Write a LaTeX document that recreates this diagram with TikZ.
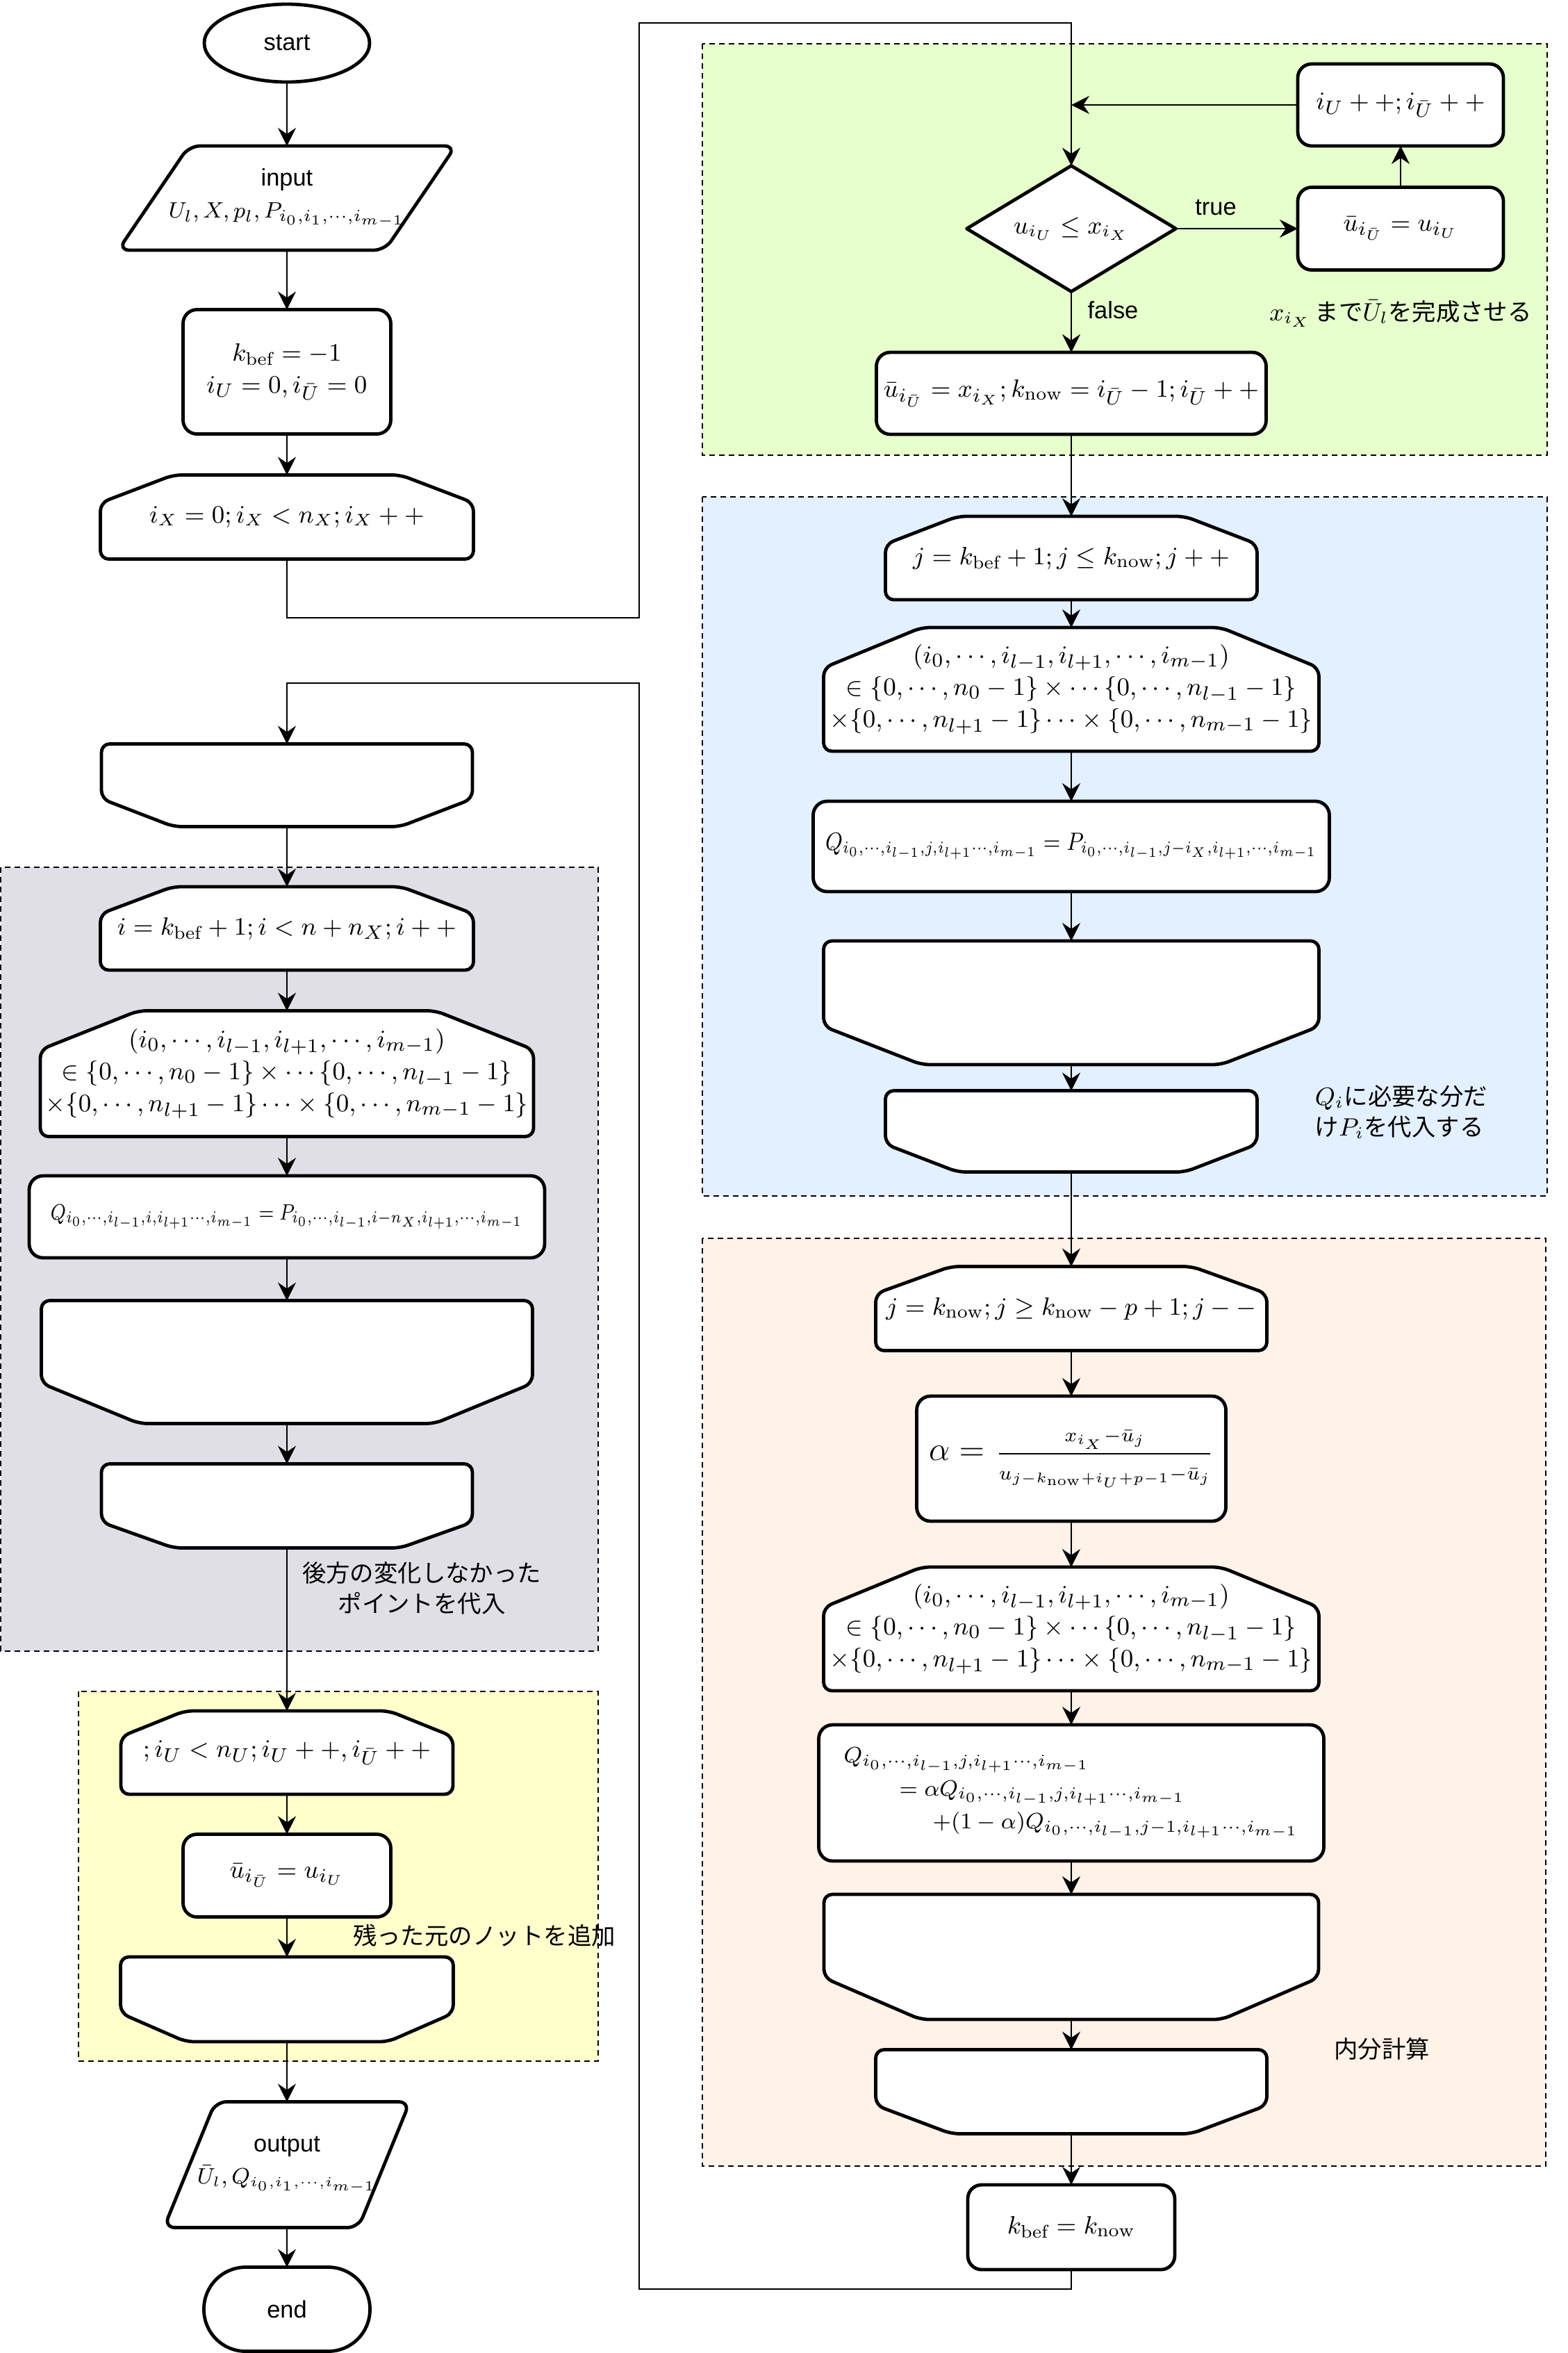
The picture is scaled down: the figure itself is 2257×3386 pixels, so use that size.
\documentclass[tikz,border=0pt]{standalone}
\usepackage{graphicx}
\usepackage{fontspec}
\newfontfamily\lsans{Liberation Sans}
\newfontfamily\jp{Noto Sans CJK JP}
\usetikzlibrary{arrows.meta,shapes.geometric}
\pgfdeclarelayer{back}\pgfdeclarelayer{mid}
\pgfsetlayers{back,mid,main}
\definecolor{cgreen}{HTML}{E6FFCC}
\definecolor{cblue}{HTML}{E3F0FF}
\definecolor{cgray}{HTML}{E1DFE6}
\definecolor{cyellow}{HTML}{FFFFCC}
\definecolor{cpeach}{HTML}{FFF2E8}
\def\pu{0.25pt}
\tikzset{
 base/.style={inner sep=0pt, outer sep=0pt, align=center, font=\fontsize{9.4pt}{11.5pt}\selectfont},
 fs/.style={font=\fontsize{#1}{11.5pt}\selectfont},
 sz/.style 2 args={minimum width=#1*\pu, minimum height=#2*\pu},
 ghost/.style={base, draw=none},
 rbox/.style={base, draw, line width=1.2pt, fill=white, rounded corners=5pt},
 outl/.style={draw, line width=1.2pt, fill=white, rounded corners=3pt, line join=round},
 region/.style={draw, line width=0.5pt, dash pattern=on 2pt off 1.5pt},
 conn/.style={line width=0.6pt, -{Stealth[length=6.5pt, width=6.5pt, inset=2.2pt]}},
 ann/.style={font=\jp\fontsize{8.6pt}{11pt}\selectfont, inner sep=0pt, align=center},
 lab/.style={font=\lsans\fontsize{8.6pt}{10pt}\selectfont, inner sep=0pt},
}
\newcommand\chamtop[3]{\begin{pgfonlayer}{mid}\path[outl] ([xshift=#2*\pu]#1.north west) -- ([xshift=-#2*\pu]#1.north east) -- ([yshift=-#3*\pu]#1.north east) -- (#1.south east) -- (#1.south west) -- ([yshift=-#3*\pu]#1.north west) -- cycle;\end{pgfonlayer}}
\newcommand\chambot[3]{\begin{pgfonlayer}{mid}\path[outl] (#1.north west) -- (#1.north east) -- ([yshift=#3*\pu]#1.south east) -- ([xshift=-#2*\pu]#1.south east) -- ([xshift=#2*\pu]#1.south west) -- ([yshift=#3*\pu]#1.south west) -- cycle;\end{pgfonlayer}}
\newcommand\para[2]{\begin{pgfonlayer}{mid}\path[outl, rounded corners=4pt] ([xshift=-#2*\pu]#1.south west) -- ([xshift=-#2*\pu]#1.south east) -- ([xshift=#2*\pu]#1.north east) -- ([xshift=#2*\pu]#1.north west) -- cycle;\end{pgfonlayer}}
\newcommand\diam[1]{\begin{pgfonlayer}{mid}\path[outl, sharp corners] (#1.north) -- (#1.east) -- (#1.south) -- (#1.west) -- cycle;\end{pgfonlayer}}
\newcommand\tuplebody{$(i_0,\cdots,i_{l-1},i_{l+1},\cdots,i_{m-1})$\\$\in\{0,\cdots,n_0-1\}\times\cdots\{0,\cdots,n_{l-1}-1\}$\\$\times\{0,\cdots,n_{l+1}-1\}\cdots\times\{0,\cdots,n_{m-1}-1\}$}
\begin{document}
\begin{tikzpicture}[x=0.25pt, y=-0.25pt]
\useasboundingbox (0,0) rectangle (2257,3386);
% regions
\begin{pgfonlayer}{back}
\draw[region, fill=cgreen] (1011,63) rectangle (2227,655);
\draw[region, fill=cblue] (1011,715) rectangle (2227,1721);
\draw[region, fill=cpeach] (1011,1782) rectangle (2225,3117);
\draw[region, fill=cgray] (1,1248) rectangle (861,2376);
\draw[region, fill=cyellow] (113,2434) rectangle (861,2966);
\end{pgfonlayer}
% left column top
\node[base, shape=ellipse, draw, line width=1.2pt, fill=white, sz={238}{112}, font=\lsans\fontsize{8.6pt}{10pt}\selectfont] (start) at (413,62) {start};
\node[ghost, sz={384}{150}] (input) at (413,285) {{\lsans\fontsize{8.6pt}{10pt}\selectfont input}\\{\fontsize{8.5pt}{11pt}\selectfont$U_l,X,p_l,P_{i_0,i_1,\cdots,i_{m-1}}$}};
\para{input}{51}
\node[rbox, sz={299}{179}] (kinit) at (413,535) {$k_{\mathrm{bef}}=-1$\\$i_U=0,i_{\bar U}=0$};
\node[ghost, sz={537}{121}, fs=9pt] (loopX) at (413,744) {$i_X=0;i_X<n_X;i_X++$};
\chamtop{loopX}{105}{40}
% right column: green
\node[ghost, sz={301}{181}, fs=9pt] (dia) at (1542,329) {$u_{i_U}\le x_{i_X}$};
\diam{dia}
\node[rbox, sz={296}{118}] (iUpp) at (2016,151) {$i_U++;i_{\bar U}++$};
\node[rbox, sz={296}{119}] (ubar1) at (2016,329) {$\bar u_{i_{\bar U}}=u_{i_U}$};
\node[rbox, sz={561}{118}] (set1) at (1542,566) {$\bar u_{i_{\bar U}}=x_{i_X};k_{\mathrm{now}}=i_{\bar U}-1;i_{\bar U}++$};
% blue
\node[ghost, sz={535}{120}] (jl1) at (1542,803) {$j=k_{\mathrm{bef}}+1;j\le k_{\mathrm{now}};j++$};
\chamtop{jl1}{104}{40}
\node[ghost, sz={713}{178}, fs=9.3pt] (tp1) at (1542,992) {\tuplebody};
\chamtop{tp1}{141}{58}
\node[rbox, sz={743}{130}, fs=8.6pt] (qp1) at (1542,1218) {\resizebox{177pt}{\height}{$Q_{i_0,\cdots,i_{l-1},j,i_{l+1}\cdots,i_{m-1}}=P_{i_0,\cdots,i_{l-1},j-i_X,i_{l+1},\cdots,i_{m-1}}$}};
\node[ghost, sz={713}{178}] (e1a) at (1542,1443) {};
\chambot{e1a}{141}{55}
\node[ghost, sz={535}{117}] (e1b) at (1542,1628) {};
\chambot{e1b}{104}{40}
% peach
\node[ghost, sz={563}{121}] (jl2) at (1542,1883) {$j=k_{\mathrm{now}};j\ge k_{\mathrm{now}}-p+1;j--$};
\chamtop{jl2}{108}{39}
\node[rbox, sz={445}{180}] (alpha) at (1542,2099) {{\fontsize{13pt}{13pt}\selectfont$\alpha=$}\hspace{4pt}{\fontsize{10pt}{12pt}\selectfont$\displaystyle\frac{\scriptstyle x_{i_X}-\bar u_j}{\scriptstyle u_{j-k_{\mathrm{now}}+i_U+p-1}-\bar u_j}$}};
\node[ghost, sz={713}{178}, fs=9.3pt] (tp2) at (1542,2344) {\tuplebody};
\chamtop{tp2}{141}{58}
\node[rbox, sz={727}{196}, align=left, font=\fontsize{8pt}{11.8pt}\selectfont] (q2) at (1542,2580) {$Q_{i_0,\cdots,i_{l-1},j,i_{l+1}\cdots,i_{m-1}}$\\\hspace*{20pt}$=\alpha Q_{i_0,\cdots,i_{l-1},j,i_{l+1}\cdots,i_{m-1}}$\\\hspace*{32pt}$+(1-\alpha)Q_{i_0,\cdots,i_{l-1},j-1,i_{l+1}\cdots,i_{m-1}}$};
\node[ghost, sz={712}{180}] (e2a) at (1542,2816) {};
\chambot{e2a}{139}{60}
\node[ghost, sz={563}{121}] (e2b) at (1542,3010) {};
\chambot{e2b}{109}{41}
\node[rbox, sz={298}{122}] (kb) at (1542,3205) {$k_{\mathrm{bef}}=k_{\mathrm{now}}$};
% left column lower
\node[ghost, sz={534}{119}] (eX) at (413,1130) {};
\chambot{eX}{104}{40}
\node[ghost, sz={537}{120}] (il) at (413,1336) {$i=k_{\mathrm{bef}}+1;i<n+n_X;i++$};
\chamtop{il}{104}{39}
\node[ghost, sz={710}{181}, fs=9.3pt] (tp3) at (413,1545) {\tuplebody};
\chamtop{tp3}{141}{56}
\node[rbox, sz={742}{118}, fs=8.5pt] (qp3) at (413,1751) {\resizebox{170pt}{\height}{$Q_{i_0,\cdots,i_{l-1},i,i_{l+1}\cdots,i_{m-1}}=P_{i_0,\cdots,i_{l-1},i-n_X,i_{l+1},\cdots,i_{m-1}}$}};
\node[ghost, sz={707}{177}] (e3a) at (413,1960) {};
\chambot{e3a}{141}{58}
\node[ghost, sz={534}{121}] (e3b) at (413,2167) {};
\chambot{e3b}{104}{37}
\node[ghost, sz={478}{120}] (ul) at (413,2522) {$;i_U<n_U;i_U++,i_{\bar U}++$};
\chamtop{ul}{92}{37}
\node[rbox, sz={299}{119}] (ubar2) at (413,2699) {$\bar u_{i_{\bar U}}=u_{i_U}$};
\node[ghost, sz={479}{122}] (e4) at (413,2877) {};
\chambot{e4}{94}{41}
\node[ghost, sz={280}{181}] (out) at (413,3115) {{\lsans\fontsize{8.6pt}{10pt}\selectfont output}\\{\fontsize{7.8pt}{11pt}\selectfont$\bar U_l,Q_{i_0,i_1,\cdots,i_{m-1}}$}};
\para{out}{37}
\node[base, draw, line width=1.2pt, fill=white, rounded corners=15pt, sz={239}{121}, font=\lsans\fontsize{8.6pt}{10pt}\selectfont] (end) at (413,3323) {end};
% annotations
\node[lab] (tlab) at (1750,299) {true};
\node[lab] (flab) at (1602,446) {false};
\node[ann] (a1) at (2016,451) {$x_{i_X}$\,まで$\bar U_l$を完成させる};
\node[ann, align=left, anchor=west] (a2) at (1892,1600) {$Q_i$に必要な分だ\\け$P_i$を代入する};
\node[ann] (a3) at (1989,2948) {内分計算};
\node[ann] (a4) at (607,2285) {後方の変化しなかった\\ポイントを代入};
\node[ann] (a5) at (697,2785) {残った元のノットを追加};
% coordinates
\coordinate (p1) at (413,889);
\coordinate (p2) at (920,889);
\coordinate (p3) at (920,33);
\coordinate (p4) at (1542,33);
\coordinate (jn) at (1542,151);
\coordinate (q1) at (1542,3294);
\coordinate (q2c) at (920,3294);
\coordinate (q3) at (920,983);
\coordinate (q4) at (413,983);
% connectors
\draw[conn] (start) -- (input);
\draw[conn] (input) -- (kinit);
\draw[conn] (kinit) -- (loopX);
\draw[conn] (loopX.south) -- (p1) -- (p2) -- (p3) -- (p4) -- (dia.north);
\draw[conn] (dia.east) -- (ubar1.west);
\draw[conn] (ubar1) -- (iUpp);
\draw[conn] (iUpp.west) -- (jn);
\draw[conn] (dia.south) -- (set1);
\draw[conn] (set1) -- (jl1);
\draw[conn] (jl1) -- (tp1);
\draw[conn] (tp1) -- (qp1);
\draw[conn] (qp1) -- (e1a);
\draw[conn] (e1a) -- (e1b);
\draw[conn] (e1b) -- (jl2);
\draw[conn] (jl2) -- (alpha);
\draw[conn] (alpha) -- (tp2);
\draw[conn] (tp2) -- (q2);
\draw[conn] (q2) -- (e2a);
\draw[conn] (e2a) -- (e2b);
\draw[conn] (e2b) -- (kb);
\draw[conn] (kb.south) -- (q1) -- (q2c) -- (q3) -- (q4) -- (eX.north);
\draw[conn] (eX) -- (il);
\draw[conn] (il) -- (tp3);
\draw[conn] (tp3) -- (qp3);
\draw[conn] (qp3) -- (e3a);
\draw[conn] (e3a) -- (e3b);
\draw[conn] (e3b) -- (ul);
\draw[conn] (ul) -- (ubar2);
\draw[conn] (ubar2) -- (e4);
\draw[conn] (e4) -- (out);
\draw[conn] (out) -- (end);
\end{tikzpicture}
\end{document}
